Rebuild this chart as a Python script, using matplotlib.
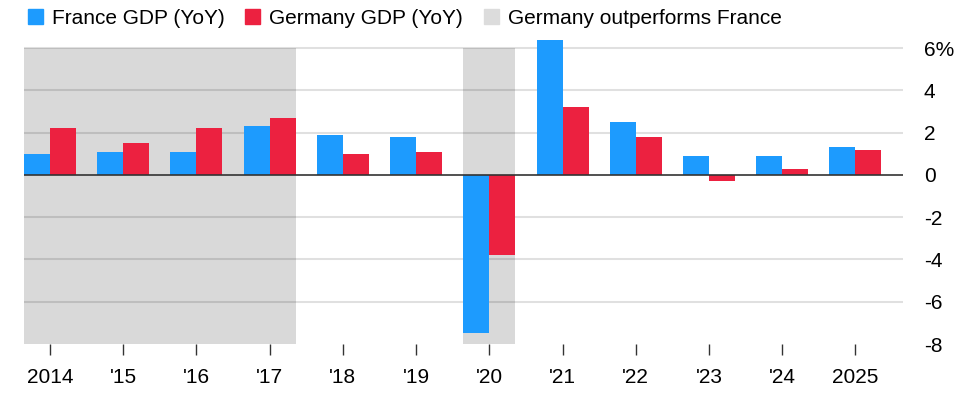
import matplotlib.pyplot as plt
import matplotlib as mpl
import numpy as np
from matplotlib.patches import Patch

mpl.rcParams.update({
    "font.family": ["Liberation Sans", "DejaVu Sans"],
    "font.size": 15,
})

# data
years = ["2014", "'15", "'16", "'17", "'18", "'19", "'20", "'21", "'22", "'23", "'24", "2025"]
france = [1.0, 1.1, 1.1, 2.3, 1.9, 1.8, -7.5, 6.4, 2.5, 0.9, 0.9, 1.3]
germany = [2.2, 1.5, 2.2, 2.7, 1.0, 1.1, -3.8, 3.2, 1.8, -0.3, 0.3, 1.2]
# index ranges (first, last) where Germany outperforms France
outperform = [(0, 3), (6, 6)]
y_ticks = [6, 4, 2, 0, -2, -4, -6, -8]

blue = "#1d9bfe"
red = "#ec2140"
shade = "#d9d9d9"

x = np.arange(len(years))
w = 0.355

fig = plt.figure(figsize=(9.64, 3.99), dpi=100)
ax = fig.add_axes([24 / 964, 55 / 399, (903 - 24) / 964, 308.6 / 399])

for a, b in outperform:
    ax.fill_between([a - w, b + w], -8, 6, color=shade, lw=0, zorder=0)

for t in y_ticks:
    if t in (0, -8):
        continue
    ax.axhline(t, color="black", alpha=0.12, lw=1.5, zorder=1)

ax.bar(x - w / 2, france, width=w, color=blue, zorder=2)
ax.bar(x + w / 2, germany, width=w, color=red, zorder=2)
ax.axhline(0, color="#333333", lw=1.2, zorder=3)

ax.set_xlim(-w, 11.65)
ax.set_ylim(-8, 6.6)

ax.set_xticks(x)
ax.set_xticklabels(years)
ax.yaxis.tick_right()
ax.set_yticks(y_ticks)
ax.set_yticklabels([f"{t}%" if t == 6 else str(t) for t in y_ticks])

ax.tick_params(axis="x", length=8, width=1, color="#333333", pad=9, labelsize=15)
ax.tick_params(axis="y", length=0, pad=15, labelsize=15)
for lbl in ax.get_yticklabels():
    lbl.set_horizontalalignment("left")

for s in ax.spines.values():
    s.set_visible(False)

handles = [
    Patch(color=blue, label="France GDP (YoY)"),
    Patch(color=red, label="Germany GDP (YoY)"),
    Patch(color="#dcdcdc", label="Germany outperforms France"),
]
fig.legend(handles=handles, loc="center left", bbox_to_anchor=(0.029, 1 - 18 / 399),
           ncol=3, frameon=False, fontsize=15, handlelength=0.7,
           handleheight=0.7, handletextpad=0.45, columnspacing=1.0,
           borderaxespad=0.0, borderpad=0.0)

fig.savefig("out.png", dpi=100)
